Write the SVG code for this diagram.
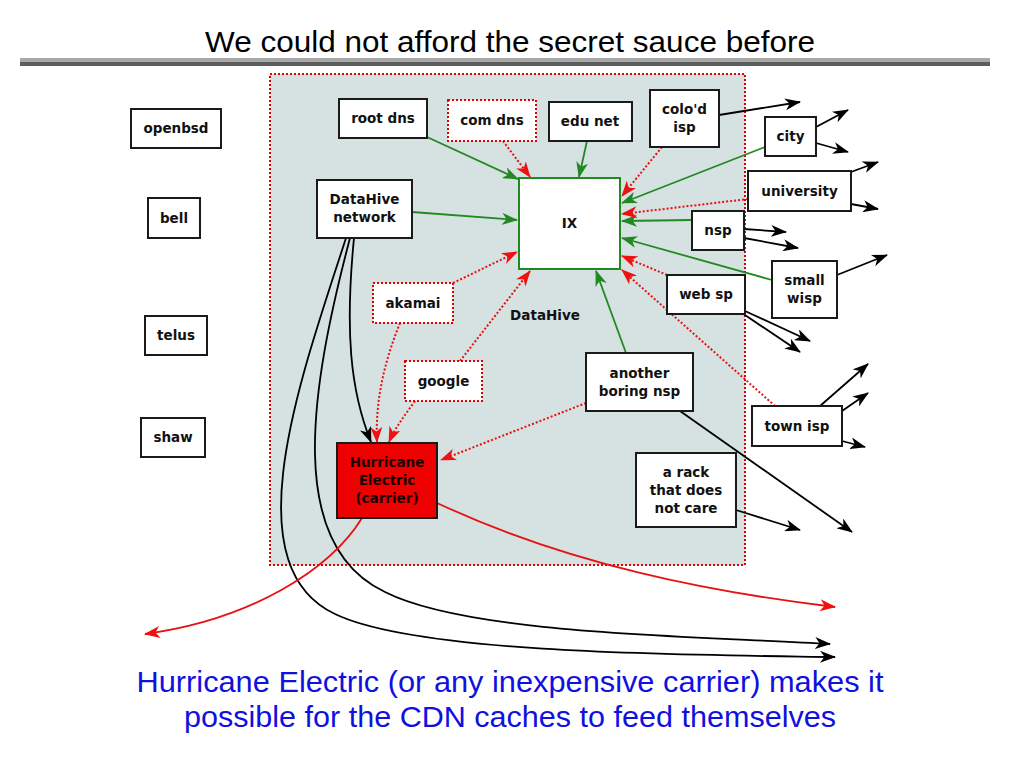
<svg xmlns="http://www.w3.org/2000/svg" width="1024" height="768" viewBox="0 0 1024 768">
<style>
.n rect{fill:#fff;stroke:#1a1a1a;stroke-width:2}
.n.d rect{stroke:#e00000;stroke-dasharray:2,2}
.n text,.lbl{font-family:"DejaVu Sans",sans-serif;font-weight:bold;font-size:13.5px;fill:#111;text-anchor:middle}
.k{fill:none;stroke:#000;stroke-width:1.8;marker-end:url(#ak)}
.g{fill:none;stroke:#228822;stroke-width:1.8;marker-end:url(#ag)}
.r{fill:none;stroke:#e81010;stroke-width:2;stroke-dasharray:2,2;marker-end:url(#ar)}
.rs{fill:none;stroke:#e81010;stroke-width:1.8;marker-end:url(#ar)}
.big{font-family:"Comic Sans MS","Liberation Sans",sans-serif;font-size:29px;text-anchor:middle}
</style>
<defs>
<marker id="ak" viewBox="0 0 16 12" refX="15" refY="6" markerWidth="16" markerHeight="12" markerUnits="userSpaceOnUse" orient="auto"><path d="M0,0 L16,6 L0,12 L4.5,6 z" fill="#000"/></marker>
<marker id="ag" viewBox="0 0 16 12" refX="15" refY="6" markerWidth="16" markerHeight="12" markerUnits="userSpaceOnUse" orient="auto"><path d="M0,0 L16,6 L0,12 L4.5,6 z" fill="#228822"/></marker>
<marker id="ar" viewBox="0 0 16 12" refX="15" refY="6" markerWidth="16" markerHeight="12" markerUnits="userSpaceOnUse" orient="auto"><path d="M0,0 L16,6 L0,12 L4.5,6 z" fill="#f01010"/></marker>
</defs>
<rect width="1024" height="768" fill="#fff"/>
<text class="big" x="510" y="52" textLength="610" lengthAdjust="spacingAndGlyphs" fill="#000">We could not afford the secret sauce before</text>
<rect x="20" y="58" width="970" height="4" fill="#a8a8a8"/>
<rect x="20" y="62" width="970" height="4" fill="#5e5e5e"/>
<g id="datahive-region">
<rect x="270" y="74" width="475" height="491" fill="#d6e1e1" stroke="#e00000" stroke-width="2" stroke-dasharray="2,2"/>
<text class="lbl" x="545" y="320">DataHive</text>
</g>
<g id="connectors">
<path class="g" d="M427,137 L518,179"/>
<path class="g" d="M412,212 L517,220"/>
<path class="g" d="M587,141 L579,177"/>
<path class="g" d="M765,147 L622,203"/>
<path class="g" d="M692,220 L622,221"/>
<path class="g" d="M772,280 L622,238"/>
<path class="g" d="M626,353 L596,271"/>
<path class="r" d="M503,141 L530,177"/>
<path class="r" d="M662,147 L622,196"/>
<path class="r" d="M748,199 L622,214"/>
<path class="r" d="M453,283 L517,252"/>
<path class="r" d="M460,361 L530,271"/>
<path class="r" d="M667,275 L622,256"/>
<path class="r" d="M775,406 L622,270"/>
<path class="r" d="M586,403 L441,460"/>
<path class="r" d="M400,323 C385,360 375,400 377,442"/>
<path class="r" d="M415,401 C405,415 395,428 389,442"/>
<path class="k" d="M354,238 C345,330 350,390 371,442"/>
<path class="k" d="M350,238 C310,390 285,545 385,592 C470,635 700,636 830,644"/>
<path class="k" d="M346,238 C300,380 232,565 335,614 C420,655 700,655 835,657"/>
<path class="rs" d="M437,503 C570,565 710,592 835,607"/>
<path class="rs" d="M362,518 C330,570 250,620 145,634"/>
<path class="k" d="M719,115 L800,102"/>
<path class="k" d="M816,127 L848,110"/>
<path class="k" d="M816,143 L848,152"/>
<path class="k" d="M851,172 L878,162"/>
<path class="k" d="M851,204 L878,209"/>
<path class="k" d="M744,229 L786,232"/>
<path class="k" d="M744,238 L798,248"/>
<path class="k" d="M837,275 L887,255"/>
<path class="k" d="M742,313 L800,352"/>
<path class="k" d="M745,311 L810,341"/>
<path class="k" d="M820,406 L868,364"/>
<path class="k" d="M842,411 L868,393"/>
<path class="k" d="M842,441 L865,447"/>
<path class="k" d="M680,411 L852,532"/>
<path class="k" d="M736,510 L800,530"/>
</g>
<g id="openbsd" class="n"><rect x="131" y="109" width="90" height="39"/><text x="176" y="133">openbsd</text></g>
<g id="bell" class="n"><rect x="148" y="198" width="52" height="40"/><text x="174" y="223">bell</text></g>
<g id="telus" class="n"><rect x="145" y="316" width="62" height="39"/><text x="176" y="340">telus</text></g>
<g id="shaw" class="n"><rect x="141" y="418" width="64" height="39"/><text x="173" y="442">shaw</text></g>
<g id="root-dns" class="n"><rect x="339" y="99" width="88" height="39"/><text x="383" y="123">root dns</text></g>
<g id="com-dns" class="n d"><rect x="448" y="100" width="88" height="41"/><text x="492" y="125">com dns</text></g>
<g id="edu-net" class="n"><rect x="549" y="102" width="83" height="39"/><text x="590" y="126">edu net</text></g>
<g id="colod-isp" class="n"><rect x="650" y="90" width="69" height="57"/><text x="684.5" y="114">colo'd</text><text x="684.5" y="132">isp</text></g>
<g id="datahive-network" class="n"><rect x="317" y="180" width="95" height="58"/><text x="364.5" y="204">DataHive</text><text x="364.5" y="222">network</text></g>
<g id="ix" class="n"><rect x="519" y="178" width="101" height="91" style="stroke:#228822"/><text x="569.5" y="228">IX</text></g>
<g id="city" class="n"><rect x="765" y="117" width="51" height="39"/><text x="790.5" y="141">city</text></g>
<g id="university" class="n"><rect x="748" y="171" width="103" height="40"/><text x="799.5" y="196">university</text></g>
<g id="nsp" class="n"><rect x="692" y="211" width="52" height="39"/><text x="718" y="235">nsp</text></g>
<g id="small-wisp" class="n"><rect x="772" y="261" width="65" height="57"/><text x="804.5" y="285">small</text><text x="804.5" y="303">wisp</text></g>
<g id="web-sp" class="n"><rect x="667" y="275" width="78" height="39"/><text x="706" y="299">web sp</text></g>
<g id="akamai" class="n d"><rect x="373" y="283" width="80" height="40"/><text x="413" y="308">akamai</text></g>
<g id="google" class="n d"><rect x="405" y="361" width="77" height="40"/><text x="443.5" y="386">google</text></g>
<g id="another-boring-nsp" class="n"><rect x="586" y="353" width="107" height="58"/><text x="639.5" y="378">another</text><text x="639.5" y="396">boring nsp</text></g>
<g id="town-isp" class="n"><rect x="752" y="406" width="90" height="40"/><text x="797" y="431">town isp</text></g>
<g id="a-rack" class="n"><rect x="636" y="453" width="100" height="74"/><text x="686" y="477">a rack</text><text x="686" y="495">that does</text><text x="686" y="513">not care</text></g>
<g id="hurricane-electric" class="n"><rect x="337" y="443" width="100" height="75" style="fill:#ee0000"/><text x="387" y="467" style="fill:#1a0000">Hurricane</text><text x="387" y="485" style="fill:#1a0000">Electric</text><text x="387" y="503" style="fill:#1a0000">(carrier)</text></g>
<text class="big" x="510" y="692" textLength="747" lengthAdjust="spacingAndGlyphs" fill="#1010e0">Hurricane Electric (or any inexpensive carrier) makes it</text>
<text class="big" x="510" y="727" textLength="652" lengthAdjust="spacingAndGlyphs" fill="#1010e0">possible for the CDN caches to feed themselves</text>
</svg>
